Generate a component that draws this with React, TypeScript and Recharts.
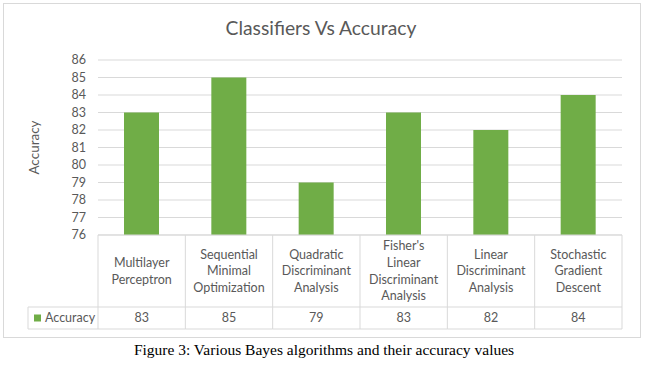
import { BarChart, Bar, XAxis, YAxis, CartesianGrid } from "recharts";

const categories = [
  "Multilayer Perceptron",
  "Sequential Minimal Optimization",
  "Quadratic Discriminant Analysis",
  "Fisher's Linear Discriminant Analysis",
  "Linear Discriminant Analysis",
  "Stochastic Gradient Descent",
];
const accuracy = [83, 85, 79, 83, 82, 84];
const yTicks = [76, 77, 78, 79, 80, 81, 82, 83, 84, 85, 86];
const seriesName = "Accuracy";

const GREEN = "#70AD47";
const GRID = "#D9D9D9";
const TEXT = "#595959";
const FONT = "Lato, 'Open Sans', sans-serif";

// layout (px)
const PLOT_LEFT = 98;
const PLOT_RIGHT = 622;
const CELL_W = (PLOT_RIGHT - PLOT_LEFT) / categories.length;
const HEADER_H = 72;
const ROW_H = 22;
const LEGEND_LEFT = 28;
const LINE_H = 16.7;
const CELL_FONT = 12.5;

const chartData = categories.map((name, i) => ({ name, value: accuracy[i] }));

// greedy word wrap, like the excel data table cells
function wrap(label: string, max = 12): string[] {
  const out: string[] = [];
  let cur = "";
  for (const w of label.split(" ")) {
    if (!cur) cur = w;
    else if ((cur + " " + w).length <= max) cur += " " + w;
    else {
      out.push(cur);
      cur = w;
    }
  }
  if (cur) out.push(cur);
  return out;
}

const TableTick = (props: any) => {
  const { x, y, payload } = props;
  const i = payload.index ?? props.index;
  const left = x - CELL_W / 2;
  const right = x + CELL_W / 2;
  const lines = wrap(String(payload.value));
  const startY = y + HEADER_H / 2 - ((lines.length - 1) * LINE_H) / 2;
  const rowY = y + HEADER_H;
  const bottom = rowY + ROW_H;

  return (
    <g>
      <line x1={left} y1={y} x2={left} y2={bottom} stroke={GRID} />
      {i === categories.length - 1 && (
        <line x1={right} y1={y} x2={right} y2={bottom} stroke={GRID} />
      )}
      <line x1={left} y1={rowY} x2={right} y2={rowY} stroke={GRID} />
      <line x1={left} y1={bottom} x2={right} y2={bottom} stroke={GRID} />
      {lines.map((ln, k) => (
        <text
          key={k}
          x={x}
          y={startY + k * LINE_H}
          dy="0.35em"
          textAnchor="middle"
          fill={TEXT}
          fontSize={CELL_FONT}
          fontFamily={FONT}
        >
          {ln}
        </text>
      ))}
      <text
        x={x}
        y={rowY + ROW_H / 2}
        dy="0.35em"
        textAnchor="middle"
        fill={TEXT}
        fontSize={CELL_FONT}
        fontFamily={FONT}
      >
        {accuracy[i]}
      </text>
      {i === 0 && (
        <g>
          <line x1={LEGEND_LEFT} y1={rowY} x2={left} y2={rowY} stroke={GRID} />
          <line x1={LEGEND_LEFT} y1={bottom} x2={left} y2={bottom} stroke={GRID} />
          <line x1={LEGEND_LEFT} y1={rowY} x2={LEGEND_LEFT} y2={bottom} stroke={GRID} />
          <rect x={LEGEND_LEFT + 6} y={rowY + ROW_H / 2 - 3.5} width={7} height={7} fill={GREEN} />
          <text
            x={LEGEND_LEFT + 17}
            y={rowY + ROW_H / 2}
            dy="0.35em"
            fill={TEXT}
            fontSize={CELL_FONT}
            fontFamily={FONT}
          >
            {seriesName}
          </text>
        </g>
      )}
    </g>
  );
};

const YLabel = (props: any) => {
  const vb = props.viewBox || { y: 60, height: 175 };
  const cx = 34;
  const cy = vb.y + vb.height / 2;
  return (
    <text
      x={cx}
      y={cy}
      transform={`rotate(-90, ${cx}, ${cy})`}
      textAnchor="middle"
      dominantBaseline="central"
      fill={TEXT}
      fontSize={13.5}
      fontFamily={FONT}
    >
      {seriesName}
    </text>
  );
};

export default function App() {
  return (
    <div
      style={{
        position: "absolute",
        left: 0,
        top: 0,
        width: 650,
        height: 367,
        background: "#fff",
        overflow: "hidden",
      }}
    >
      <div
        style={{
          position: "absolute",
          left: 3,
          top: 3,
          width: 638,
          height: 335,
          border: `1px solid ${GRID}`,
          boxSizing: "border-box",
        }}
      />
      <div
        style={{
          position: "absolute",
          left: 0,
          top: 16,
          width: 642,
          textAlign: "center",
          lineHeight: "24px",
          fontSize: 19.3,
          fontFamily: FONT,
          color: TEXT,
        }}
      >
        Classifiers Vs Accuracy
      </div>
      <div style={{ position: "absolute", left: 0, top: 0 }}>
        <BarChart
          width={650}
          height={340}
          data={chartData}
          margin={{ top: 60, right: 650 - PLOT_RIGHT, left: 0, bottom: 11 }}
        >
          <CartesianGrid vertical={false} stroke={GRID} />
          <YAxis
            width={PLOT_LEFT}
            domain={[76, 86]}
            ticks={yTicks}
            interval={0}
            axisLine={false}
            tickLine={false}
            tickMargin={6}
            tick={{ fill: TEXT, fontSize: 12.5, fontFamily: FONT }}
            label={<YLabel />}
          />
          <XAxis
            dataKey="name"
            height={HEADER_H + ROW_H}
            interval={0}
            tickLine={false}
            tickSize={0}
            tickMargin={0}
            axisLine={{ stroke: GRID }}
            tick={<TableTick />}
          />
          <Bar dataKey="value" name={seriesName} fill={GREEN} barSize={35} isAnimationActive={false} />
        </BarChart>
      </div>
      <div
        style={{
          position: "absolute",
          left: 0,
          top: 341,
          width: 648,
          textAlign: "center",
          lineHeight: "17px",
          fontSize: 15.5,
          fontFamily: "'Liberation Serif', 'Times New Roman', serif",
          color: "#000",
        }}
      >
        Figure 3: Various Bayes algorithms and their accuracy values
      </div>
    </div>
  );
}
